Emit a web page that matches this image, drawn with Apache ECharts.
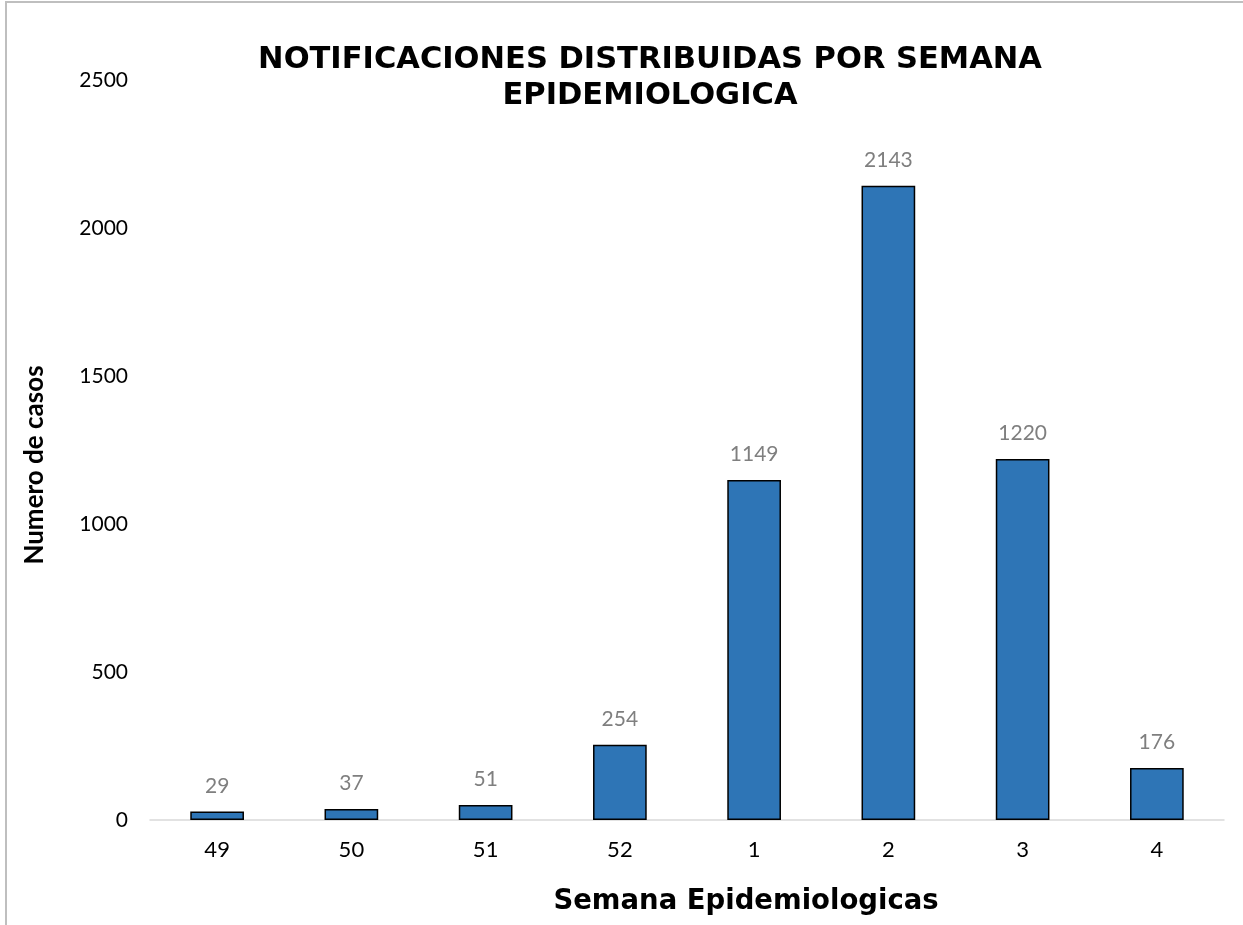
<!DOCTYPE html>
<html><head><meta charset="utf-8">
<script src="https://cdn.jsdelivr.net/npm/echarts@6/dist/echarts.min.js"></script>
<style>html,body{margin:0;padding:0;background:#fff}#c{width:1243px;height:925px}</style>
</head><body><div id="c"></div>
<script>
const categories = ['49','50','51','52','1','2','3','4'];
const casos = [29, 37, 51, 254, 1149, 2143, 1220, 176];
const yTicks = [0, 500, 1000, 1500, 2000, 2500];

const chart = echarts.init(document.getElementById('c'), null, {renderer:'canvas'});
chart.setOption({
  backgroundColor:'#fff',
  animation:false,
  graphic:[{type:'rect', shape:{x:6,y:2,width:1260,height:940}, style:{fill:'none', stroke:'#bfbfbf', lineWidth:2}, silent:true}],
  title:{
    text:'NOTIFICACIONES DISTRIBUIDAS POR SEMANA\nEPIDEMIOLOGICA',
    left:645, top:37, textAlign:'center',
    textStyle:{fontFamily:'DejaVu Sans', fontWeight:'bold', fontSize:30.5, lineHeight:36, color:'#000'}
  },
  grid:{left:150, right:19, top:80, bottom:105},
  xAxis:{
    type:'category', data:categories,
    axisLine:{lineStyle:{color:'#d9d9d9', width:1.5}},
    axisTick:{show:false},
    axisLabel:{color:'#000', fontFamily:'Lato', fontSize:22, margin:19},
    name:'Semana Epidemiologicas', nameLocation:'middle', nameGap:68,
    nameTextStyle:{fontFamily:'DejaVu Sans', fontWeight:'bold', fontSize:27.5, color:'#000', padding:[0,0,0,118]}
  },
  yAxis:{
    type:'value', min:yTicks[0], max:yTicks[yTicks.length-1], interval:500,
    axisLine:{show:false}, axisTick:{show:false}, splitLine:{show:false},
    axisLabel:{color:'#000', fontFamily:'Lato', fontSize:21, margin:22, formatter:function(v){return String(v);}},
    name:'Numero de casos', nameLocation:'middle', nameGap:102,
    nameTextStyle:{fontFamily:'Lato', fontWeight:'bold', fontSize:26, color:'#000', padding:[0,30,0,0]}
  },
  series:[{
    type:'bar', data:casos, barWidth:'40%',
    itemStyle:{color:'#2e75b6', borderColor:'#000', borderWidth:1.5},
    label:{show:true, position:'top', distance:15, color:'#7f7f7f', fontFamily:'Lato', fontSize:21}
  }]
});
</script></body></html>
